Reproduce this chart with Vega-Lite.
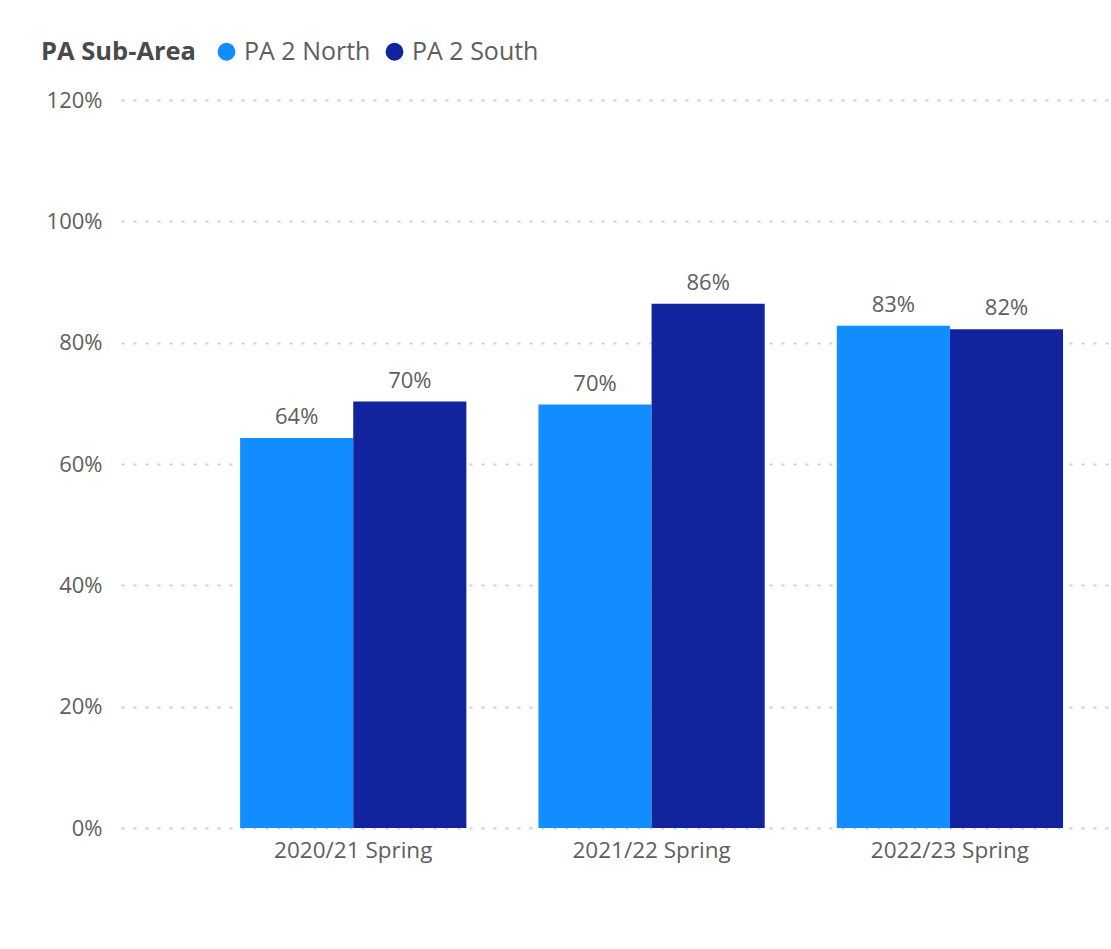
{
  "$schema": "https://vega.github.io/schema/vega-lite/v6.json",
  "autosize": {"type": "none"},
  "padding": {"left": 121, "top": 100, "right": 3, "bottom": 121},
  "width": 987,
  "height": 728,
  "background": "white",
  "config": {
    "view": {"stroke": null},
    "font": "Open Sans"
  },
  "data": {
    "values": [
      {"period": "2020/21 Spring", "area": "PA 2 North", "value": 0.643},
      {"period": "2020/21 Spring", "area": "PA 2 South", "value": 0.703},
      {"period": "2021/22 Spring", "area": "PA 2 North", "value": 0.698},
      {"period": "2021/22 Spring", "area": "PA 2 South", "value": 0.864},
      {"period": "2022/23 Spring", "area": "PA 2 North", "value": 0.828},
      {"period": "2022/23 Spring", "area": "PA 2 South", "value": 0.822}
    ]
  },
  "encoding": {
    "x": {
      "field": "period",
      "type": "nominal",
      "sort": null,
      "scale": {"paddingInner": 0.2416, "paddingOuter": 0.275, "align": 0.726},
      "axis": {
        "title": null,
        "labelAngle": 0,
        "domain": false,
        "ticks": false,
        "labelPadding": 11,
        "labelFontSize": 22.5,
        "labelColor": "#605E5C",
        "labelFont": "Open Sans"
      }
    },
    "xOffset": {
      "field": "area",
      "type": "nominal",
      "scale": {"paddingInner": 0, "paddingOuter": 0}
    },
    "y": {
      "field": "value",
      "type": "quantitative",
      "scale": {"domain": [0, 1.2], "nice": false},
      "axis": {
        "title": null,
        "format": ".0%",
        "values": [0, 0.2, 0.4, 0.6, 0.8, 1.0, 1.2],
        "domain": false,
        "ticks": false,
        "labelPadding": 19,
        "labelFontSize": 22,
        "labelColor": "#605E5C",
        "labelFont": "Open Sans",
        "gridColor": "#CFCFCF",
        "gridDash": [3, 9],
        "gridWidth": 2
      }
    }
  },
  "layer": [
    {
      "mark": {"type": "bar"},
      "encoding": {
        "color": {
          "field": "area",
          "type": "nominal",
          "scale": {"domain": ["PA 2 North", "PA 2 South"], "range": ["#118DFF", "#12239E"]},
          "legend": {
            "title": "PA Sub-Area",
            "orient": "none",
            "legendX": -80,
            "legendY": -61,
            "direction": "horizontal",
            "titleOrient": "left",
            "titleFontSize": 25.5,
            "titleFontWeight": "bold",
            "titleColor": "#4A4A4A",
            "titleFont": "Open Sans",
            "titlePadding": 17,
            "labelFontSize": 25,
            "labelColor": "#605E5C",
            "labelFont": "Open Sans",
            "labelOffset": 5,
            "symbolType": "circle",
            "symbolSize": 320,
            "symbolStrokeWidth": 0,
            "columnPadding": 11
          }
        }
      }
    },
    {
      "mark": {"type": "text", "baseline": "bottom", "dy": -9, "fontSize": 22, "color": "#605E5C", "font": "Open Sans"},
      "encoding": {
        "text": {"field": "value", "type": "quantitative", "format": ".0%"}
      }
    }
  ]
}
